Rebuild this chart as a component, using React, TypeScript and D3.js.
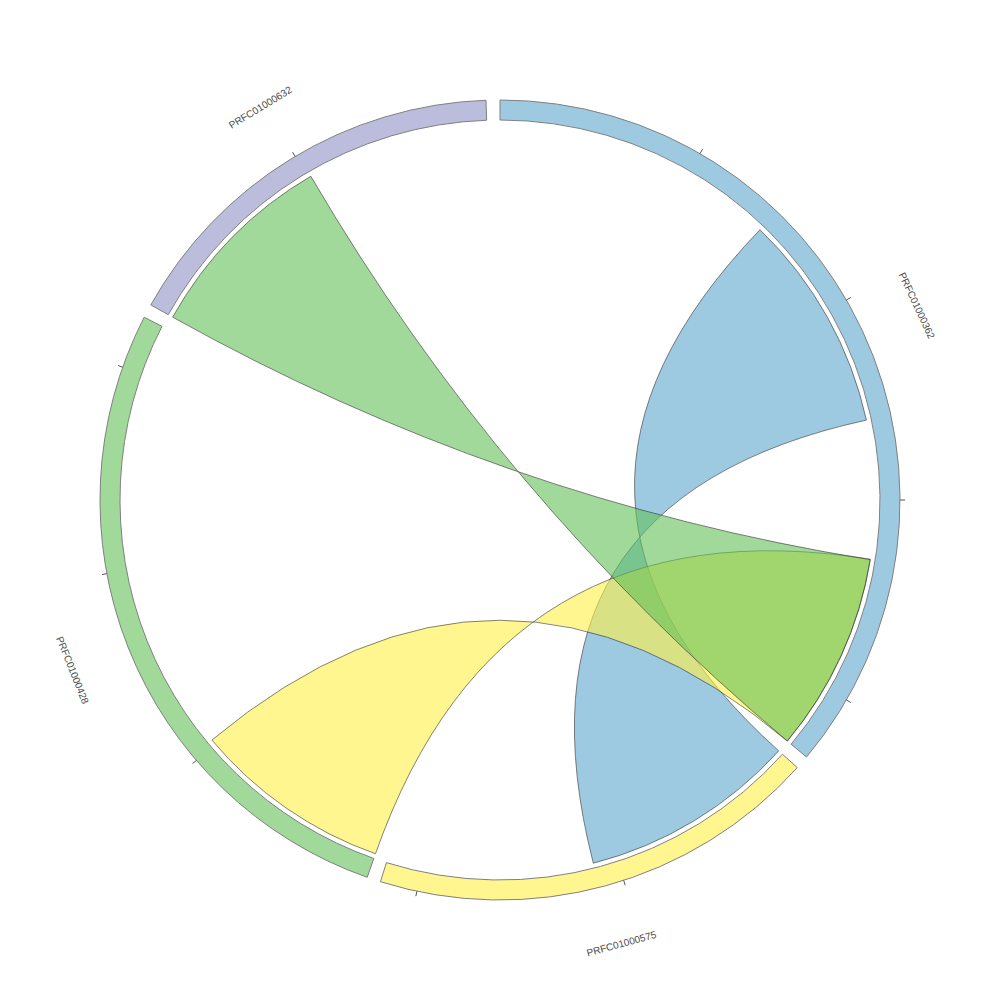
import * as d3 from "d3";
import * as React from "react";

// contigs, in order round the circle (lengths in the same units as the links)
const contigs = ["PRFC01000362", "PRFC01000575", "PRFC01000428", "PRFC01000632"];
const contigLengths = [4333, 2180, 3260, 1960];
const ringColors = ["#9ecae1", "#fff68f", "#a1d99b", "#bcbddc"];
const linkColors = ["#5da7cd", "#fff044", "#62c058"];
const tickStep = 1000;

// links: [contig, start, end] on each side, drawn in this order
const linkSources = [[0, 1463, 2590], [2, 0, 1027], [3, 0, 1017]];
const linkTargets = [[1, 0, 1120], [0, 3303, 4333], [0, 3305, 4333]];
const linkColorIndex = [0, 1, 2];

const degPerUnit = 0.03;
const padDeg = 2;

export default class App extends React.Component<{}, {}> {
    mountRef: HTMLDivElement;

    componentDidMount() {
        const width = 1000, height = 1000;
        const rOuter = 400, rInner = 380, rLink = 375, rLabel = 460;
        const rad = Math.PI / 180;

        // one angle scale per contig
        let start = 0;
        const angle = contigLengths.map(len => {
            const s = d3.scaleLinear()
                .domain([0, len])
                .range([start * rad, (start + len * degPerUnit) * rad]);
            start += len * degPerUnit + padDeg;
            return s;
        });

        const svg = d3.select(this.mountRef)
            .append("svg")
            .attr("width", width)
            .attr("height", height)
            .style("position", "absolute")
            .style("left", "0px")
            .style("top", "0px");

        const g = svg.append("g").attr("transform", `translate(${width / 2},${height / 2})`);

        const pt = (a: number, r: number) => [r * Math.sin(a), -r * Math.cos(a)];

        // twisted ribbon: start joins start, end joins end
        const linkPath = (s0: number, s1: number, t0: number, t1: number) => {
            const p = d3.path();
            const [x0, y0] = pt(s0, rLink);
            const [x1, y1] = pt(t1, rLink);
            p.moveTo(x0, y0);
            p.arc(0, 0, rLink, s0 - Math.PI / 2, s1 - Math.PI / 2, false);
            p.quadraticCurveTo(0, 0, x1, y1);
            p.arc(0, 0, rLink, t1 - Math.PI / 2, t0 - Math.PI / 2, true);
            p.quadraticCurveTo(0, 0, x0, y0);
            p.closePath();
            return p.toString();
        };

        g.append("g")
            .selectAll("path")
            .data(linkSources.map((s, i) => ({ s, t: linkTargets[i], c: linkColorIndex[i] })))
            .join("path")
            .attr("d", d => linkPath(
                angle[d.s[0]](d.s[1]), angle[d.s[0]](d.s[2]),
                angle[d.t[0]](d.t[1]), angle[d.t[0]](d.t[2])))
            .attr("fill", d => linkColors[d.c])
            .attr("fill-opacity", 0.6)
            .attr("stroke", "#333")
            .attr("stroke-width", 0.6);

        const arc = d3.arc<any>().innerRadius(rInner).outerRadius(rOuter);

        const ring = g.append("g")
            .selectAll("g")
            .data(contigs.map((name, i) => ({ name, i })))
            .join("g");

        ring.append("path")
            .attr("d", d => arc({
                startAngle: angle[d.i](0),
                endAngle: angle[d.i](contigLengths[d.i]),
            }))
            .attr("fill", d => ringColors[d.i])
            .attr("stroke", "#808080")
            .attr("stroke-width", 1);

        ring.append("g")
            .selectAll("line")
            .data(d => d3.range(tickStep, contigLengths[d.i], tickStep).map(v => angle[d.i](v)))
            .join("line")
            .attr("x1", a => pt(a, rOuter)[0])
            .attr("y1", a => pt(a, rOuter)[1])
            .attr("x2", a => pt(a, rOuter + 5)[0])
            .attr("y2", a => pt(a, rOuter + 5)[1])
            .attr("stroke", "#555")
            .attr("stroke-width", 1);

        ring.append("text")
            .attr("transform", d => {
                const mid = (angle[d.i](0) + angle[d.i](contigLengths[d.i])) / 2;
                const [x, y] = pt(mid, rLabel);
                const deg = mid / rad;
                const rot = ((deg + 90) % 180) - 90;
                return `translate(${x},${y}) rotate(${rot})`;
            })
            .attr("text-anchor", "middle")
            .attr("dominant-baseline", "central")
            .attr("font-family", "'Liberation Sans', Arial, sans-serif")
            .attr("font-size", 10)
            .attr("fill", "#4a4a4a")
            .text(d => d.name);
    }

    render() {
        return <div style={{ width: 1000, height: 1000 }} ref={ref => (this.mountRef = ref!)} />;
    }
}
